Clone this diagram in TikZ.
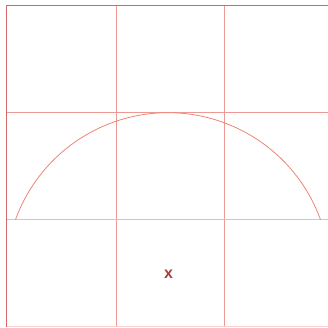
\documentclass[tikz,border=0pt]{standalone}
\usepackage{fontspec}
\setsansfont{Liberation Sans}
\usetikzlibrary{positioning}
\definecolor{gridred}{HTML}{EE9A94}
\definecolor{edgered}{HTML}{D06A6A}
\definecolor{arcred}{HTML}{EE8474}
\definecolor{markred}{HTML}{A8403A}

\begin{document}
\begin{tikzpicture}[x=1pt, y=1pt,
    gridline/.style={draw=gridred, line width=0.9pt},
    edgeline/.style={draw=edgered, line width=1pt},
    arcline/.style={draw=arcred, line width=0.8pt},
    marker/.style={text=markred, font=\sffamily\bfseries\fontsize{16}{16}\selectfont, inner sep=1pt}]
  \useasboundingbox (0,0) rectangle (328,327);

  % grid
  \draw[gridline] (116.7,0) -- (116.7,322);
  \draw[gridline] (224.3,0) -- (224.3,322);
  \draw[gridline] (6,214.3) -- (328,214.3);
  \draw[gridline, draw=gridred!70] (6,107.3) -- (328,107.3);
  \draw[gridline, draw=gridred!45] (6,1) -- (328,1);
  \draw[edgeline] (6,0) -- (6,321.5) -- (328,321.5);

  % arc
  \coordinate (arcR) at (320.5,107.3);
  \draw[arcline] (arcR) arc (19.9:160.1:162.2);

  \node[marker] (xmark) at (168.5,52.5) {x};
\end{tikzpicture}
\end{document}
